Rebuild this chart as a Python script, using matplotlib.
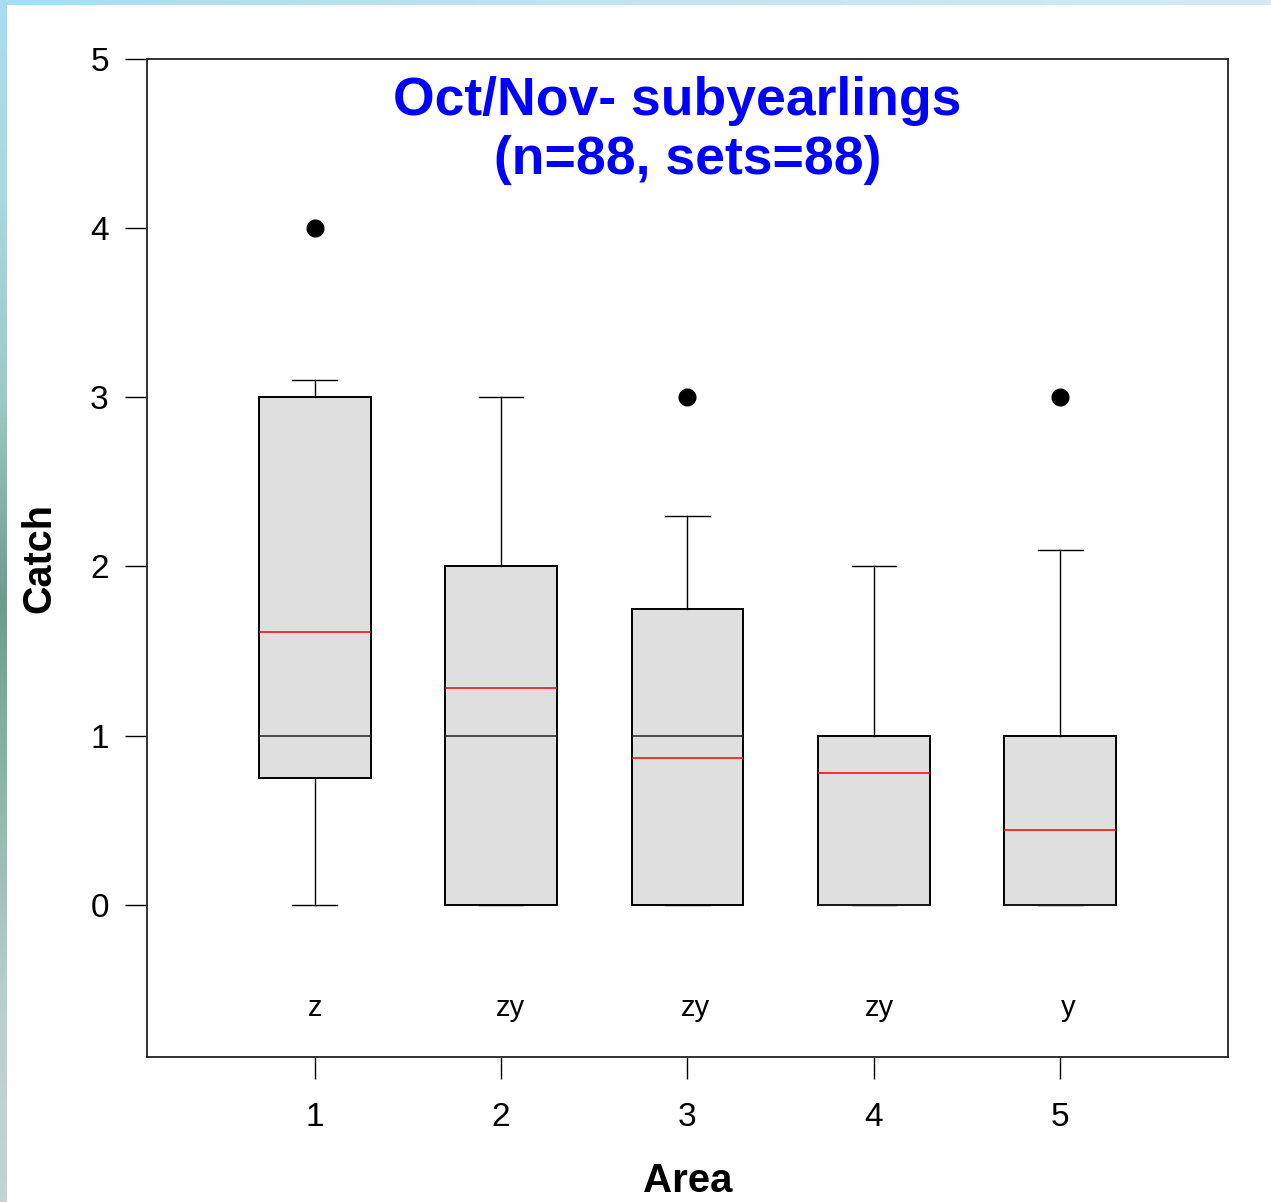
import numpy as np
import matplotlib
matplotlib.use("Agg")
import matplotlib.pyplot as plt
from matplotlib.colors import LinearSegmentedColormap

# ---- data ----
areas = [1, 2, 3, 4, 5]
q1 = [0.75, 0.0, 0.0, 0.0, 0.0]
medians = [1.0, 1.0, 1.0, 0.0, 0.0]
q3 = [3.0, 2.0, 1.75, 1.0, 1.0]
whisker_low = [0.0, 0.0, 0.0, 0.0, 0.0]
whisker_high = [3.1, 3.0, 2.3, 2.0, 2.1]
means = [1.61, 1.28, 0.87, 0.78, 0.44]
outliers = [[4.0], [], [3.0], [], [3.0]]
group_letters = ["z", "zy", "zy", "zy", "y"]
letter_x = [1.0, 2.05, 3.04, 4.03, 5.04]
letter_y = -0.61
yticks = [0, 1, 2, 3, 4, 5]
title_lines = ["Oct/Nov- subyearlings", "(n=88, sets=88)"]

plt.rcParams['font.family'] = ['Liberation Sans', 'DejaVu Sans']

fig = plt.figure(figsize=(12.71, 12.02), dpi=100, facecolor='white')

# slide background strips
cmap_left = LinearSegmentedColormap.from_list(
    "left", ["#a9dcf1", "#a8d8e0", "#9ccac4", "#6c9c8c", "#8fb8aa", "#b8d0cc", "#c6d2d6"])
axl = fig.add_axes([0, 0, 7 / 1271, 1], zorder=-5)
axl.imshow(np.linspace(0, 1, 256).reshape(-1, 1), aspect='auto', cmap=cmap_left)
axl.axis('off')
cmap_top = LinearSegmentedColormap.from_list("top", ["#aadcf1", "#c4e4f3", "#d2eaf6"])
axt = fig.add_axes([0, 1 - 5 / 1202, 1, 5 / 1202], zorder=-5)
axt.imshow(np.linspace(0, 1, 256).reshape(1, -1), aspect='auto', cmap=cmap_top)
axt.axis('off')

W, H = 1271, 1202
L, R, T, B = 147, 1228, 59, 1057
ax = fig.add_axes([L / W, 1 - B / H, (R - L) / W, (B - T) / H])

stats = []
for i in range(len(areas)):
    stats.append(dict(med=medians[i], q1=q1[i], q3=q3[i],
                      whislo=whisker_low[i], whishi=whisker_high[i],
                      mean=means[i], fliers=outliers[i], label=str(areas[i])))

ax.bxp(stats, positions=areas, widths=0.6, capwidths=0.24,
       patch_artist=True, showmeans=True, meanline=True,
       boxprops=dict(facecolor='#dfdfdf', edgecolor='black', linewidth=1.4),
       medianprops=dict(color='#222222', linewidth=1.1),
       meanprops=dict(color='red', linestyle='-', linewidth=1.1),
       whiskerprops=dict(color='black', linewidth=1.0),
       capprops=dict(color='black', linewidth=1.0),
       flierprops=dict(marker='o', markerfacecolor='black', markeredgecolor='black',
                       markersize=12))

for x, t in zip(letter_x, group_letters):
    ax.text(x, letter_y, t, ha='center', va='center', fontsize=21)

ax.set_xlim(0.1, 5.9)
ax.set_ylim(-0.9, 5.0)
ax.set_yticks(yticks)
ax.set_xticks(areas)
ax.set_xticklabels([str(a) for a in areas])
ax.tick_params(axis='both', direction='out', length=15.5, width=1.0, labelsize=24, color='black')
ax.tick_params(axis='y', pad=12)
ax.tick_params(axis='x', pad=17)
for s in ax.spines.values():
    s.set_linewidth(1.3)
    s.set_color('#222222')

ax.set_xlabel("Area", fontsize=29, fontweight='bold', labelpad=21)
ax.set_ylabel("Catch", fontsize=28.5, fontweight='bold', labelpad=23)

ax.text(0.49, 0.958, title_lines[0], transform=ax.transAxes, ha='center', va='center',
        fontsize=38.5, fontweight='bold', color='#0000ff')
ax.text(0.50, 0.899, title_lines[1], transform=ax.transAxes, ha='center', va='center',
        fontsize=38.5, fontweight='bold', color='#0000ff')

fig.savefig("out.png", dpi=100, facecolor='white')
